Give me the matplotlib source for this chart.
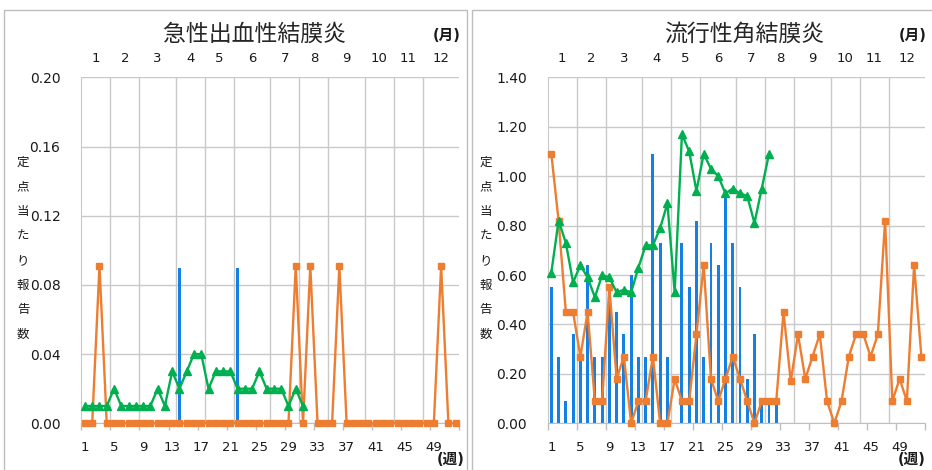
import numpy as np
import matplotlib
matplotlib.use('Agg')
import matplotlib.pyplot as plt
from matplotlib.patches import Rectangle
from matplotlib.ticker import FormatStrFormatter

plt.rcParams['font.family'] = ['DejaVu Sans', 'Noto Sans CJK JP']

# ---------------- data ----------------
weeks = np.arange(1, 53)
week_tick_labels = [str(w) for w in range(1, 53, 4)]
month_labels = [str(m) for m in range(1, 13)]
weeks_per_month = [4, 4, 5, 4, 4, 5, 4, 4, 5, 4, 4, 5]
ylabel_text = '定点当たり報告数'
month_unit = '(月)'
week_unit = '(週)'

# 急性出血性結膜炎
ahc_title = '急性出血性結膜炎'
ahc_bar = [0]*13 + [0.09] + [0]*7 + [0.09] + [0]*30
ahc_orange = [0, 0, 0.091, 0, 0, 0, 0, 0, 0, 0,
              0, 0, 0, 0, 0, 0, 0, 0, 0, 0,
              0, 0, 0, 0, 0, 0, 0, 0, 0, 0.091,
              0, 0.091, 0, 0, 0, 0.091, 0, 0, 0, 0,
              0, 0, 0, 0, 0, 0, 0, 0, 0, 0.091,
              0, 0]
ahc_green = [0.01, 0.01, 0.01, 0.01, 0.02, 0.01, 0.01, 0.01, 0.01, 0.01,
             0.02, 0.01, 0.03, 0.02, 0.03, 0.04, 0.04, 0.02, 0.03, 0.03,
             0.03, 0.02, 0.02, 0.02, 0.03, 0.02, 0.02, 0.02, 0.01, 0.02,
             0.01]

# 流行性角結膜炎
ekc_title = '流行性角結膜炎'
ekc_bar = [0.55, 0.27, 0.09, 0.36, 0.27, 0.64, 0.27, 0.27, 0.55, 0.45,
           0.36, 0.60, 0.27, 0.27, 1.09, 0.73, 0.27, 0.0, 0.73, 0.55,
           0.82, 0.27, 0.73, 0.64, 0.91, 0.73, 0.55, 0.18, 0.36, 0.09,
           0.09, 0.09]
ekc_orange = [1.09, 0.82, 0.45, 0.45, 0.27, 0.45, 0.09, 0.09, 0.55, 0.18,
              0.27, 0.00, 0.09, 0.09, 0.27, 0.00, 0.00, 0.18, 0.09, 0.09,
              0.36, 0.64, 0.18, 0.09, 0.18, 0.27, 0.18, 0.09, 0.00, 0.09,
              0.09, 0.09, 0.45, 0.17, 0.36, 0.18, 0.27, 0.36, 0.09, 0.00,
              0.09, 0.27, 0.36, 0.36, 0.27, 0.36, 0.82, 0.09, 0.18, 0.09,
              0.64, 0.27]
ekc_green = [0.61, 0.82, 0.73, 0.57, 0.64, 0.59, 0.51, 0.60, 0.59, 0.53,
             0.54, 0.53, 0.63, 0.72, 0.72, 0.79, 0.89, 0.53, 1.17, 1.10,
             0.94, 1.09, 1.03, 1.00, 0.93, 0.95, 0.93, 0.92, 0.81, 0.95,
             1.09]


def pad52(vals):
    arr = np.full(52, np.nan)
    arr[:len(vals)] = vals
    return arr


BLUE = '#1580E3'
ORANGE = '#ED7D31'
GREEN = '#00B050'
GRID = '#c9c9c9'
TXT = '#1a1a1a'

W, H = 932, 470
fig = plt.figure(figsize=(W/100, H/100), dpi=100)
fig.patch.set_facecolor('white')

# panel frames
fig.add_artist(Rectangle((4/W, -0.05), (467-4)/W, 1.05 - 10/H, transform=fig.transFigure,
                         fill=False, edgecolor='#bdbdbd', lw=1))
fig.add_artist(Rectangle((472.5/W, -0.05), 1.0, 1.05 - 10/H, transform=fig.transFigure,
                         fill=False, edgecolor='#bdbdbd', lw=1))

bounds = np.concatenate([[0.5], 0.5 + np.cumsum(weeks_per_month)])
centers = (bounds[:-1] + bounds[1:]) / 2

panels = [
    dict(x0=81.3, x1=459.3, title=ahc_title, tx=255, bar=ahc_bar, orange=ahc_orange,
         green=ahc_green, ymax=0.20, ystep=0.04, ylx=23, unitx=447, wkx=451),
    dict(x0=547.7, x1=925.0, title=ekc_title, tx=744, bar=ekc_bar, orange=ekc_orange,
         green=ekc_green, ymax=1.40, ystep=0.20, ylx=486, unitx=913, wkx=912),
]

ytop, ybot = 77.3, 423.3
for p in panels:
    ax = fig.add_axes([p['x0']/W, 1 - ybot/H, (p['x1'] - p['x0'])/W, (ybot - ytop)/H])
    ax.set_xlim(0.5, 52.5)
    ax.set_ylim(0, p['ymax'])
    ax.set_yticks(np.arange(0, p['ymax'] + 1e-9, p['ystep']))
    ax.yaxis.set_major_formatter(FormatStrFormatter('%.2f'))
    ax.yaxis.grid(True, color=GRID, lw=1)
    ax.set_axisbelow(True)
    for b in bounds[1:-1]:
        ax.axvline(b, color=GRID, lw=1, zorder=0.5)
    for s in ['top', 'right']:
        ax.spines[s].set_visible(False)
    ax.spines['left'].set_color(GRID)
    ax.spines['bottom'].set_color('#bfbfbf')
    ax.tick_params(axis='y', length=0, pad=15, labelsize=10, labelcolor=TXT)
    ax.set_xticks(np.arange(1, 53, 4), labels=week_tick_labels)
    ax.tick_params(axis='x', length=0, pad=13, labelsize=9.5, labelcolor=TXT)

    # bottom tick marks
    sb = ax.secondary_xaxis('bottom')
    sb.set_xticks(np.arange(0.5, 53, 4), labels=[''] * 14)
    sb.tick_params(length=5, color='#bfbfbf', width=1)
    sb.spines['bottom'].set_visible(False)

    # month labels on top
    st = ax.secondary_xaxis('top')
    st.set_xticks(centers, labels=month_labels)
    st.tick_params(length=0, pad=9, labelsize=9.5, labelcolor=TXT)
    st.spines['top'].set_visible(False)

    ax.bar(weeks, pad52(p['bar']), width=0.4, color=BLUE, lw=0, zorder=2)
    ax.plot(weeks, pad52(p['orange']), color=ORANGE, lw=1.7, marker='s', ms=4.6,
            mfc=ORANGE, mec=ORANGE, clip_on=False, zorder=3)
    ax.plot(weeks, pad52(p['green']), color=GREEN, lw=1.7, marker='^', ms=6,
            mfc=GREEN, mec=GREEN, clip_on=False, zorder=4)

    fig.text(p['tx']/W, 1 - 34/H, p['title'], ha='center', va='center', fontsize=16.5,
             family=['Noto Sans CJK JP'], color='#262626')
    fig.text(p['unitx']/W, 1 - 36/H, month_unit, ha='center', va='center', fontsize=10.5,
             fontweight='bold', color=TXT)
    fig.text(p['wkx']/W, 1 - 460/H, week_unit, ha='center', va='center', fontsize=10.5,
             fontweight='bold', color=TXT)
    for i, ch in enumerate(ylabel_text):
        fig.text(p['ylx']/W, 1 - (162 + i*24.6)/H, ch, ha='center', va='center',
                 fontsize=9, family=['Noto Sans CJK JP'], color=TXT)

fig.savefig('out.png', dpi=100, facecolor='white')
